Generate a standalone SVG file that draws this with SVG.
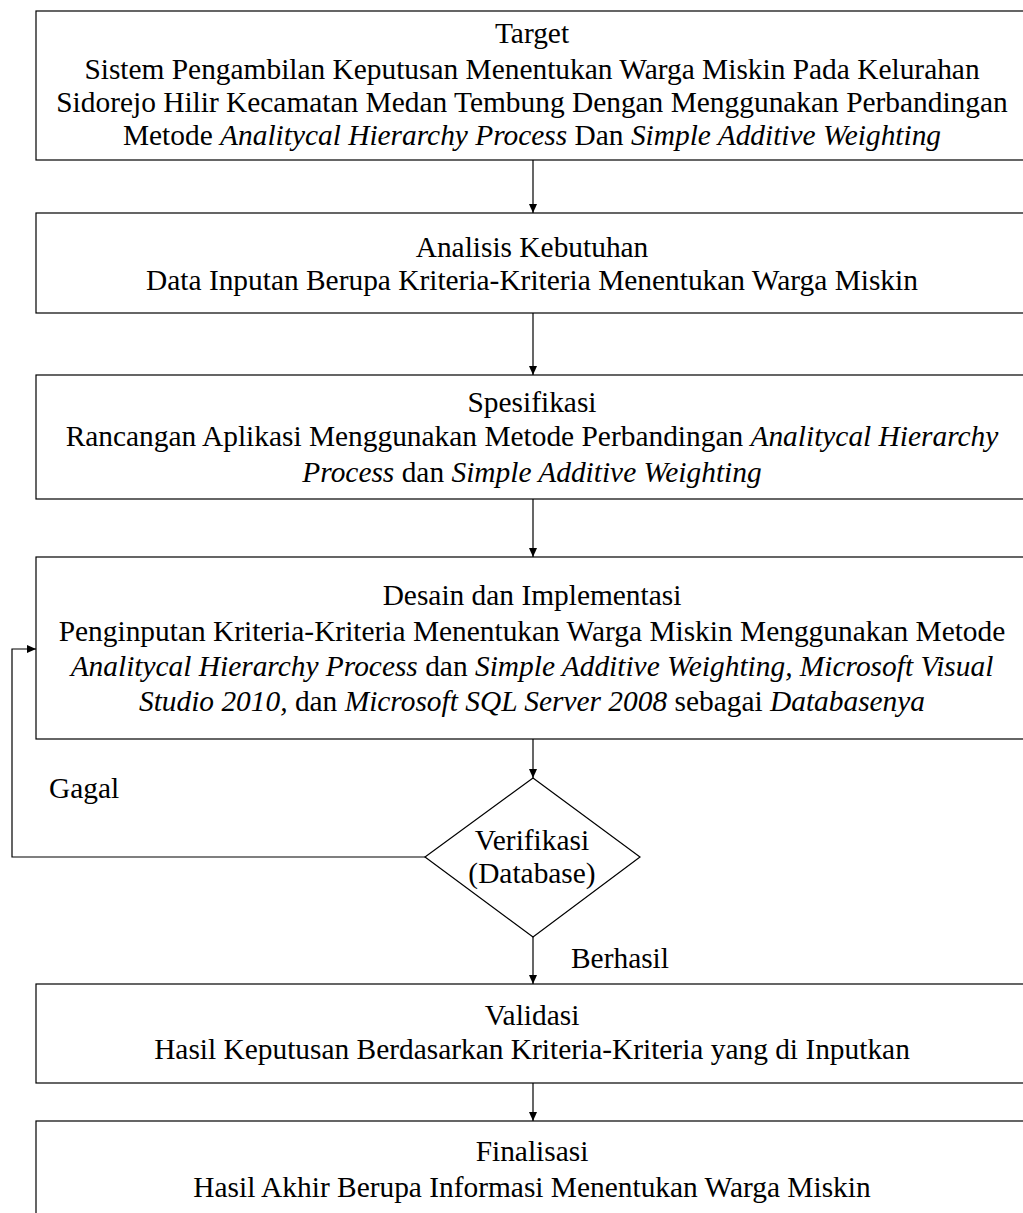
<svg xmlns="http://www.w3.org/2000/svg" width="1023" height="1213" viewBox="0 0 1023 1213">
<defs>
<marker id="ah" markerWidth="10" markerHeight="11" refX="9" refY="5" orient="auto" markerUnits="userSpaceOnUse">
<path d="M0,1 L9,5 L0,9 Z" fill="#000"/>
</marker>
<style>
.box{fill:#fff;stroke:#000;stroke-width:1.2}
.t{font-family:"Liberation Serif","Times New Roman",serif;font-size:29.4px;fill:#000;text-anchor:middle}
.l{font-family:"Liberation Serif","Times New Roman",serif;font-size:29.4px;fill:#000}
.i{font-style:italic}
.c{fill:none;stroke:#000;stroke-width:1.2;marker-end:url(#ah)}
</style>
</defs>
<rect width="1023" height="1213" fill="#fff"/>
<g id="connectors">
<line class="c" x1="533" y1="160" x2="533" y2="213"/>
<line class="c" x1="533" y1="313" x2="533" y2="375"/>
<line class="c" x1="533" y1="499" x2="533" y2="557"/>
<line class="c" x1="533" y1="739" x2="533" y2="778"/>
<line class="c" x1="533" y1="937" x2="533" y2="984"/>
<line class="c" x1="533" y1="1083" x2="533" y2="1121"/>
<polyline class="c" points="425,857 12,857 12,649 36,649"/>
<text class="l" x="49" y="798">Gagal</text>
<text class="l" x="571" y="968">Berhasil</text>
</g>
<g id="target">
<rect class="box" x="36" y="11" width="1000" height="149"/>
<text class="t" x="532" y="43">Target</text>
<text class="t" x="532" y="79">Sistem Pengambilan Keputusan Menentukan Warga Miskin Pada Kelurahan</text>
<text class="t" x="532" y="112">Sidorejo Hilir Kecamatan Medan Tembung Dengan Menggunakan Perbandingan</text>
<text class="t" x="532" y="145">Metode <tspan class="i">Analitycal Hierarchy Process</tspan> Dan <tspan class="i">Simple Additive Weighting</tspan></text>
</g>
<g id="analisis">
<rect class="box" x="36" y="213" width="1000" height="100"/>
<text class="t" x="532" y="257">Analisis Kebutuhan</text>
<text class="t" x="532" y="290">Data Inputan Berupa Kriteria-Kriteria Menentukan Warga Miskin</text>
</g>
<g id="spesifikasi">
<rect class="box" x="36" y="375" width="1000" height="124"/>
<text class="t" x="532" y="412">Spesifikasi</text>
<text class="t" x="532" y="446">Rancangan Aplikasi Menggunakan Metode Perbandingan <tspan class="i">Analitycal Hierarchy</tspan></text>
<text class="t" x="532" y="482"><tspan class="i">Process</tspan> dan <tspan class="i">Simple Additive Weighting</tspan></text>
</g>
<g id="desain">
<rect class="box" x="36" y="557" width="1000" height="182"/>
<text class="t" x="532" y="605">Desain dan Implementasi</text>
<text class="t" x="532" y="641">Penginputan Kriteria-Kriteria Menentukan Warga Miskin Menggunakan Metode</text>
<text class="t" x="532" y="676"><tspan class="i">Analitycal Hierarchy Process</tspan> dan <tspan class="i">Simple Additive Weighting, Microsoft Visual</tspan></text>
<text class="t" x="532" y="711"><tspan class="i">Studio 2010,</tspan> dan <tspan class="i">Microsoft SQL Server 2008</tspan> sebagai <tspan class="i">Databasenya</tspan></text>
</g>
<g id="verifikasi">
<polygon class="box" points="533,778 640,857 533,937 425,857"/>
<text class="t" x="532" y="850">Verifikasi</text>
<text class="t" x="532" y="883">(Database)</text>
</g>
<g id="validasi">
<rect class="box" x="36" y="984" width="1000" height="99"/>
<text class="t" x="532" y="1025">Validasi</text>
<text class="t" x="532" y="1059">Hasil Keputusan Berdasarkan Kriteria-Kriteria yang di Inputkan</text>
</g>
<g id="finalisasi">
<rect class="box" x="36" y="1121" width="1000" height="100"/>
<text class="t" x="532" y="1161">Finalisasi</text>
<text class="t" x="532" y="1197">Hasil Akhir Berupa Informasi Menentukan Warga Miskin</text>
</g>
</svg>
